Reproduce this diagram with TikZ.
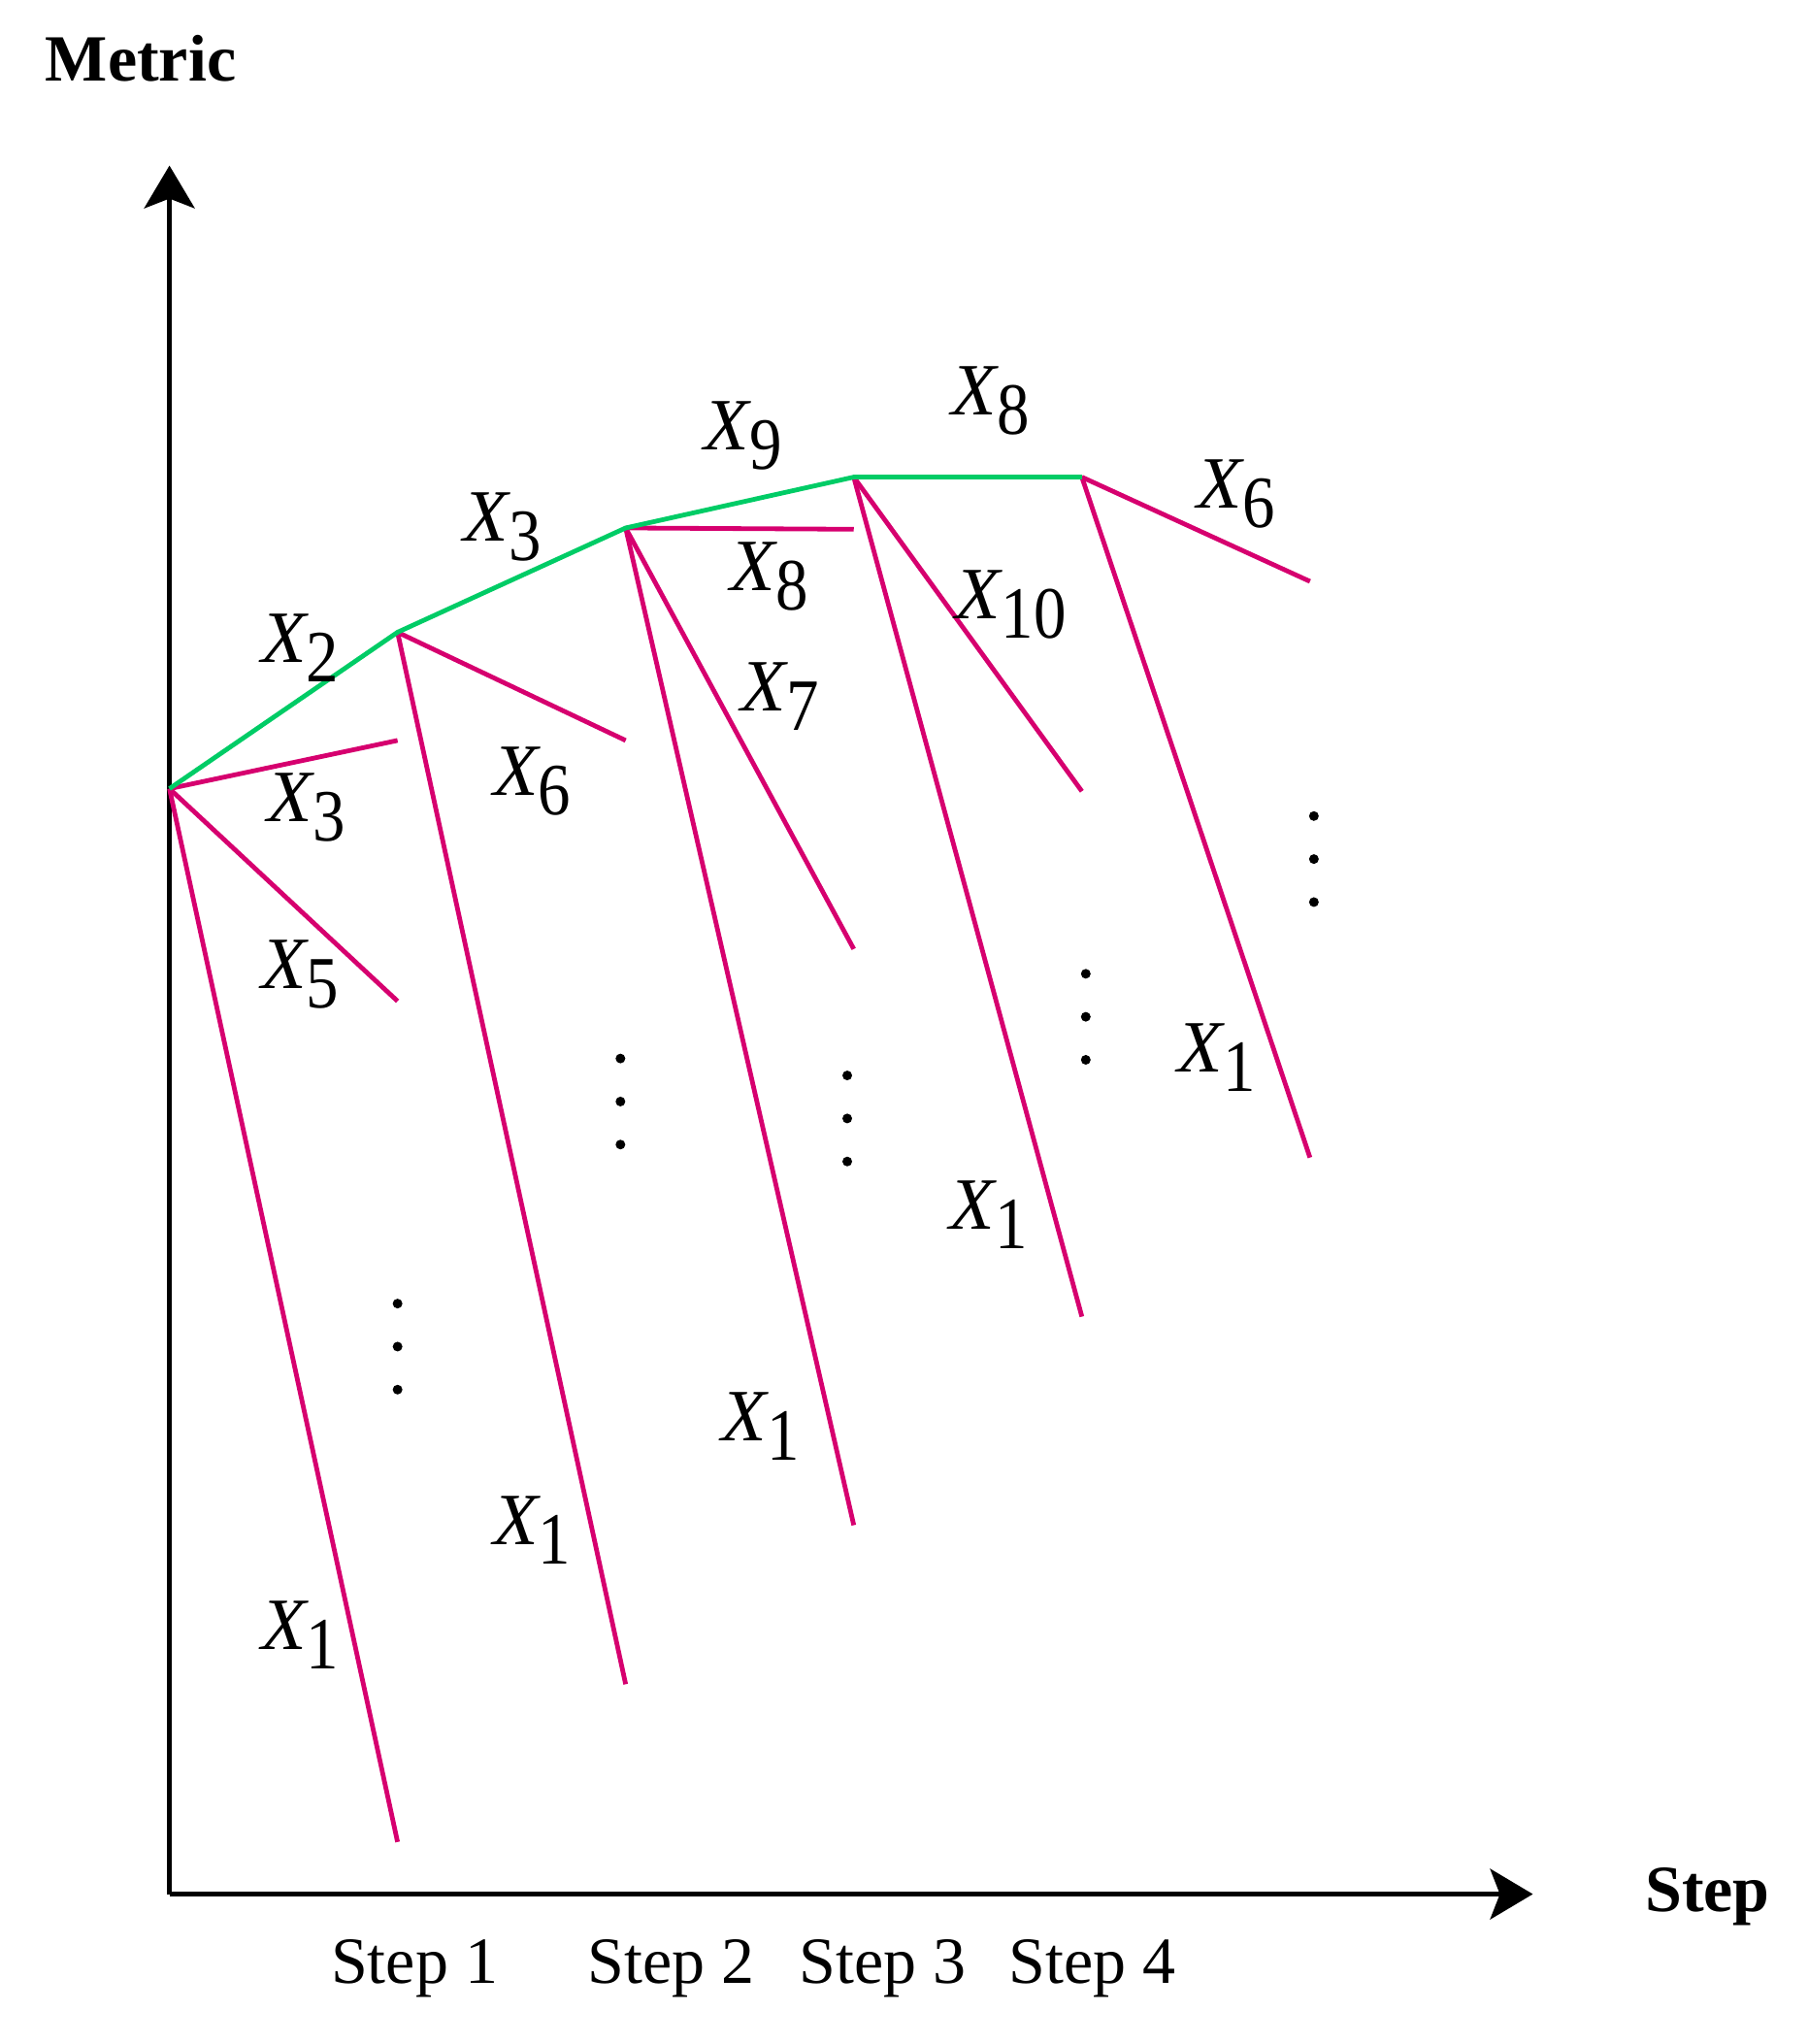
\documentclass[tikz,border=0pt]{standalone}
\usepackage{fontspec}
\setmainfont{Liberation Serif}
\usetikzlibrary{arrows.meta}
\definecolor{pk}{RGB}{214,0,111}
\definecolor{gr}{RGB}{0,204,102}
\newcommand\xlab[1]{\textit{X}\kern-1pt\raisebox{-10pt}{\scalebox{0.88}[1]{#1}}}
\begin{document}
\begin{tikzpicture}[x=0.6715pt,y=-0.6715pt,
  axis/.style={line width=2.4pt,-{Stealth[length=22pt,width=26pt,inset=5pt]}},
  pinkline/.style={pk,line width=2.4pt},
  greenline/.style={gr,line width=2.4pt},
  xl/.style={font=\fontsize{38}{40}\selectfont,inner sep=0pt,anchor=base west},
  dotc/.style={circle,fill=black,inner sep=0pt,minimum size=5pt},
  axlab/.style={font=\fontsize{34}{36}\selectfont\bfseries,inner sep=0pt},
  steplab/.style={font=\fontsize{34}{36}\selectfont,inner sep=0pt}]
\useasboundingbox (0,0) rectangle (1387,1568);
% axes
\coordinate (O) at (130,1453);
\coordinate (ytip) at (130,127);
\coordinate (xtip) at (1176,1453);
\draw[axis] (O) -- (ytip);
\draw[axis] (O) -- (xtip);
\node[axlab] (metric) at (108,45) {Metric};
\node[axlab] (steplab) at (1310,1455) {Step};
\node[steplab] (s1) at (318,1510) {Step 1};
\node[steplab] (s2) at (515,1510) {Step 2};
\node[steplab] (s3) at (677,1510) {Step 3};
\node[steplab] (s4) at (838,1510) {Step 4};
% path points
\coordinate (P0) at (130,605);
\coordinate (P1) at (305,485);
\coordinate (P2) at (480,405);
\coordinate (P3) at (655,366);
\coordinate (P4) at (830,366);
% branch ends
\coordinate (a1) at (305,568);
\coordinate (a2) at (305,768);
\coordinate (a3) at (305,1413);
\coordinate (b1) at (480,568);
\coordinate (b2) at (480,1292);
\coordinate (c1) at (655,406);
\coordinate (c2) at (655,728);
\coordinate (c3) at (655,1170);
\coordinate (d1) at (830,607);
\coordinate (d2) at (830,1010);
\coordinate (e1) at (1005,446);
\coordinate (e2) at (1005,888);
% pink branches
\draw[pinkline] (P0) -- (a1);
\draw[pinkline] (P0) -- (a2);
\draw[pinkline] (P0) -- (a3);
\draw[pinkline] (P1) -- (b1);
\draw[pinkline] (P1) -- (b2);
\draw[pinkline] (P2) -- (c1);
\draw[pinkline] (P2) -- (c2);
\draw[pinkline] (P2) -- (c3);
\draw[pinkline] (P3) -- (d1);
\draw[pinkline] (P3) -- (d2);
\draw[pinkline] (P4) -- (e1);
\draw[pinkline] (P4) -- (e2);
% green best path
\draw[greenline] (P0) -- (P1) -- (P2) -- (P3) -- (P4);
% labels
\node[xl] (lx2) at (200,508) {\xlab{2}};
\node[xl] (lx3t) at (355,415) {\xlab{3}};
\node[xl] (lx9) at (540,345) {\xlab{9}};
\node[xl] (lx8t) at (730,318) {\xlab{8}};
\node[xl] (lx6t) at (918,390) {\xlab{6}};
\node[xl] (lx3) at (205,630) {\xlab{3}};
\node[xl] (lx5) at (200,758) {\xlab{5}};
\node[xl] (lx1a) at (200,1265) {\xlab{1}};
\node[xl] (lx6) at (378,610) {\xlab{6}};
\node[xl] (lx1b) at (378,1185) {\xlab{1}};
\node[xl] (lx8) at (560,453) {\xlab{8}};
\node[xl] (lx7) at (568,545) {\xlab{7}};
\node[xl] (lx1c) at (553,1105) {\xlab{1}};
\node[xl] (lx10) at (733,475) {\xlab{10}};
\node[xl] (lx1d) at (728,943) {\xlab{1}};
\node[xl] (lx1e) at (903,822) {\xlab{1}};
% vertical dots
\foreach \x/\y [count=\i] in {305/1000,476/812,650/825,833/747,1008/626}{
  \node[dotc] (dt\i a) at (\x,\y) {};
  \node[dotc] (dt\i b) at (\x,\y+33) {};
  \node[dotc] (dt\i c) at (\x,\y+66) {};
}
\end{tikzpicture}
\end{document}
